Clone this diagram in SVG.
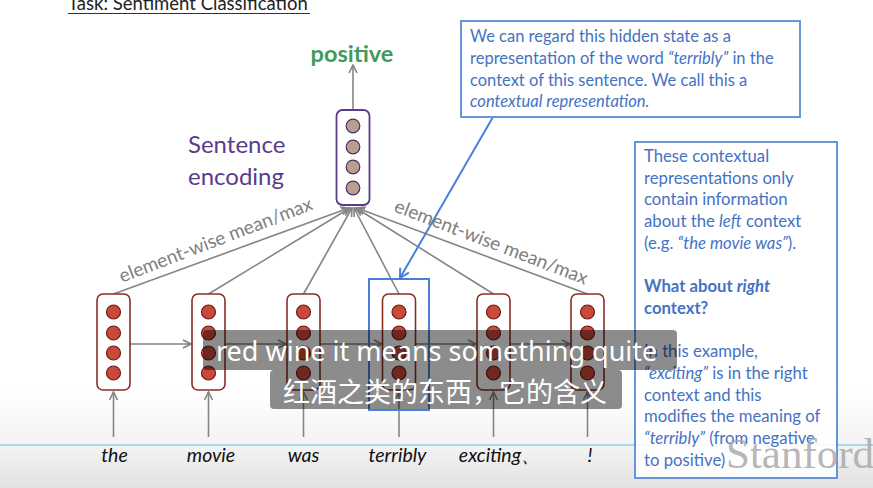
<svg xmlns="http://www.w3.org/2000/svg" width="873" height="488" viewBox="0 0 873 488">
<style>
  .t{font-family:Lato,"Liberation Sans",sans-serif}
  .blue{fill:#4472c4;font-size:16.5px}
  .blue2{fill:#4472c4;font-size:16.7px}
  .word{font-size:19.5px;font-style:italic;fill:#111;text-anchor:middle}
  .lbl{font-size:19px;fill:#808080}
  .cell{fill:#fff;stroke:#8b2e22;stroke-width:1.6}
  .dot{fill:#c9493a;stroke:#6b1d14;stroke-width:1.2}
  .gl{stroke:#858585;stroke-width:1.6;fill:none}
  .sub{fill:#000;fill-opacity:0.45}
  .subt{fill:#fff;font-size:27px;font-family:"Noto Sans","Noto Sans CJK SC",sans-serif}
</style>
<defs>
  <marker id="ga" viewBox="0 0 10 10" refX="9" refY="5" markerWidth="10" markerHeight="10" markerUnits="userSpaceOnUse" orient="auto">
    <path d="M1,1 L9,5 L1,9" fill="none" stroke="#858585" stroke-width="1.6"/>
  </marker>
  <marker id="ba" viewBox="0 0 12 12" refX="10" refY="6" markerWidth="12" markerHeight="12" markerUnits="userSpaceOnUse" orient="auto">
    <path d="M1,1 L10,6 L1,11" fill="none" stroke="#4a7fd8" stroke-width="2"/>
  </marker>
  <linearGradient id="bg" x1="0" y1="0" x2="0" y2="1">
    <stop offset="0" stop-color="#ffffff"/>
    <stop offset="0.6" stop-color="#f2f2f2"/>
    <stop offset="1" stop-color="#e2e2e2"/>
  </linearGradient>
</defs>
<rect width="873" height="488" fill="#fff"/>
<rect x="0" y="390" width="873" height="98" fill="url(#bg)"/>

<g id="title">
  <text class="t" x="68" y="10" font-size="18.5" fill="#222">Task: Sentiment Classification</text>
  <line x1="68" y1="13.5" x2="310" y2="13.5" stroke="#333" stroke-width="1.2"/>
</g>

<g id="connectors">
  <line class="gl" x1="353" y1="110" x2="353" y2="65" marker-end="url(#ga)"/>
  <line class="gl" x1="113.5" y1="294" x2="349" y2="208" marker-end="url(#ga)"/>
  <line class="gl" x1="208.5" y1="294" x2="350" y2="208" marker-end="url(#ga)"/>
  <line class="gl" x1="303.5" y1="294" x2="352" y2="208" marker-end="url(#ga)"/>
  <line class="gl" x1="399" y1="294" x2="354" y2="208" marker-end="url(#ga)"/>
  <line class="gl" x1="493.5" y1="294" x2="356" y2="208" marker-end="url(#ga)"/>
  <line class="gl" x1="587.5" y1="294" x2="357" y2="208" marker-end="url(#ga)"/>
  <line class="gl" x1="130" y1="344" x2="191" y2="344" marker-end="url(#ga)"/>
  <line class="gl" x1="225" y1="344" x2="286" y2="344" marker-end="url(#ga)"/>
  <line class="gl" x1="320" y1="344" x2="382" y2="344" marker-end="url(#ga)"/>
  <line class="gl" x1="415.5" y1="344" x2="476" y2="344" marker-end="url(#ga)"/>
  <line class="gl" x1="510" y1="344" x2="570" y2="344" marker-end="url(#ga)"/>
  <line class="gl" x1="113.5" y1="437" x2="113.5" y2="392" marker-end="url(#ga)"/>
  <line class="gl" x1="208.5" y1="437" x2="208.5" y2="392" marker-end="url(#ga)"/>
  <line class="gl" x1="303.5" y1="437" x2="303.5" y2="392" marker-end="url(#ga)"/>
  <line class="gl" x1="399" y1="437" x2="399" y2="392" marker-end="url(#ga)"/>
  <line class="gl" x1="493.5" y1="437" x2="493.5" y2="392" marker-end="url(#ga)"/>
  <line class="gl" x1="587.5" y1="437" x2="587.5" y2="392" marker-end="url(#ga)"/>
  <line x1="493" y1="117" x2="400" y2="278" stroke="#4a7fd8" stroke-width="2" marker-end="url(#ba)"/>
  <text class="t lbl" text-anchor="middle" transform="translate(218,246) rotate(-21)">element-wise mean/max</text>
  <text class="t lbl" text-anchor="middle" transform="translate(489,248) rotate(21)">element-wise mean/max</text>
</g>

<g id="positive">
  <text class="t" x="352" y="62" font-size="23.5" font-weight="bold" fill="#3f9b5b" text-anchor="middle">positive</text>
</g>

<g id="sentence-label">
  <text class="t" x="188" y="153" font-size="24" fill="#5b3b8c">Sentence</text>
  <text class="t" x="188" y="185" font-size="24" fill="#5b3b8c">encoding</text>
</g>

<g id="sentence-encoding">
  <rect x="336.5" y="110" width="33" height="95" rx="6" fill="#fff" stroke="#5a3a8a" stroke-width="1.8"/>
  <circle cx="353" cy="126" r="6.8" fill="#b9a08e" stroke="#4a2a6a" stroke-width="1.2"/>
  <circle cx="353" cy="147" r="6.8" fill="#b9a08e" stroke="#4a2a6a" stroke-width="1.2"/>
  <circle cx="353" cy="167" r="6.8" fill="#b9a08e" stroke="#4a2a6a" stroke-width="1.2"/>
  <circle cx="353" cy="188" r="6.8" fill="#b9a08e" stroke="#4a2a6a" stroke-width="1.2"/>
</g>

<g id="h1">
  <rect class="cell" x="97" y="294" width="33" height="96" rx="6"/>
  <circle class="dot" cx="113.5" cy="312" r="7"/><circle class="dot" cx="113.5" cy="333" r="7"/><circle class="dot" cx="113.5" cy="353" r="7"/><circle class="dot" cx="113.5" cy="373" r="7"/>
</g>
<g id="h2">
  <rect class="cell" x="192" y="294" width="33" height="96" rx="6"/>
  <circle class="dot" cx="208.5" cy="312" r="7"/><circle class="dot" cx="208.5" cy="333" r="7"/><circle class="dot" cx="208.5" cy="353" r="7"/><circle class="dot" cx="208.5" cy="373" r="7"/>
</g>
<g id="h3">
  <rect class="cell" x="287" y="294" width="33" height="96" rx="6"/>
  <circle class="dot" cx="303.5" cy="312" r="7"/><circle class="dot" cx="303.5" cy="333" r="7"/><circle class="dot" cx="303.5" cy="353" r="7"/><circle class="dot" cx="303.5" cy="373" r="7"/>
</g>
<g id="h4">
  <rect class="cell" x="382.5" y="294" width="33" height="96" rx="6"/>
  <circle class="dot" cx="399" cy="312" r="7"/><circle class="dot" cx="399" cy="333" r="7"/><circle class="dot" cx="399" cy="353" r="7"/><circle class="dot" cx="399" cy="373" r="7"/>
  <rect x="369" y="279" width="60" height="131" fill="none" stroke="#4a7fd8" stroke-width="2"/>
</g>
<g id="h5">
  <rect class="cell" x="477" y="294" width="33" height="96" rx="6"/>
  <circle class="dot" cx="493.5" cy="312" r="7"/><circle class="dot" cx="493.5" cy="333" r="7"/><circle class="dot" cx="493.5" cy="353" r="7"/><circle class="dot" cx="493.5" cy="373" r="7"/>
</g>
<g id="h6">
  <rect class="cell" x="571" y="294" width="33" height="96" rx="6"/>
  <circle class="dot" cx="587.5" cy="312" r="7"/><circle class="dot" cx="587.5" cy="333" r="7"/><circle class="dot" cx="587.5" cy="353" r="7"/><circle class="dot" cx="587.5" cy="373" r="7"/>
</g>

<g id="words">
  <text class="t word" x="114.5" y="462">the</text>
  <text class="t word" x="211" y="462">movie</text>
  <text class="t word" x="303.5" y="462">was</text>
  <text class="t word" x="397.5" y="462">terribly</text>
  <text class="t word" x="500" y="462">exciting、</text>
  <text class="t word" x="590" y="462">!</text>
</g>

<g id="callout-hidden-state">
  <rect x="461" y="21" width="339" height="96" fill="#fff" stroke="#5b8ad8" stroke-width="1.8"/>
  <text class="t blue" x="470" y="42">We can regard this hidden state as a</text>
  <text class="t blue" x="470" y="64">representation of the word <tspan font-style="italic">“terribly”</tspan> in the</text>
  <text class="t blue" x="470" y="86">context of this sentence. We call this a</text>
  <text class="t blue" x="470" y="107" font-style="italic">contextual representation.</text>
</g>

<line x1="0" y1="445" x2="873" y2="445" stroke="#a9d6e8" stroke-width="2.2"/>

<g id="callout-left-context">
  <rect x="635" y="142" width="202" height="336" fill="#fff" fill-opacity="0.9" stroke="#5b8ad8" stroke-width="1.8"/>
  <text class="t blue2" x="644" y="162">These contextual</text>
  <text class="t blue2" x="644" y="183.7">representations only</text>
  <text class="t blue2" x="644" y="205.4">contain information</text>
  <text class="t blue2" x="644" y="227.1">about the <tspan font-style="italic">left</tspan> context</text>
  <text class="t blue2" x="644" y="248.8">(e.g. <tspan font-style="italic">“the movie was”</tspan>).</text>
  <text class="t blue2" x="644" y="292.2" font-weight="bold">What about <tspan font-style="italic">right</tspan></text>
  <text class="t blue2" x="644" y="313.9" font-weight="bold">context?</text>
  <text class="t blue2" x="644" y="357.3">In this example,</text>
  <text class="t blue2" x="644" y="379"><tspan font-style="italic">“exciting”</tspan> is in the right</text>
  <text class="t blue2" x="644" y="400.7">context and this</text>
  <text class="t blue2" x="644" y="422.4">modifies the meaning of</text>
  <text class="t blue2" x="644" y="444.1"><tspan font-style="italic">“terribly”</tspan> (from negative</text>
  <text class="t blue2" x="644" y="465.8">to positive)</text>
</g>

<g id="watermark">
  <text x="726" y="468" font-family="'Liberation Serif',serif" font-size="43" fill="#aaaaaa" fill-opacity="0.85">Stanford</text>
</g>

<g id="subtitles">
  <rect class="sub" x="203" y="330" width="474" height="40" rx="4"/>
  <rect class="sub" x="270" y="370" width="352" height="39" rx="4"/>
  <text class="subt" x="216" y="361">red wine it means something quite</text>
  <text class="subt" x="283" y="402">红酒之类的东西，它的含义</text>
</g>
</svg>
